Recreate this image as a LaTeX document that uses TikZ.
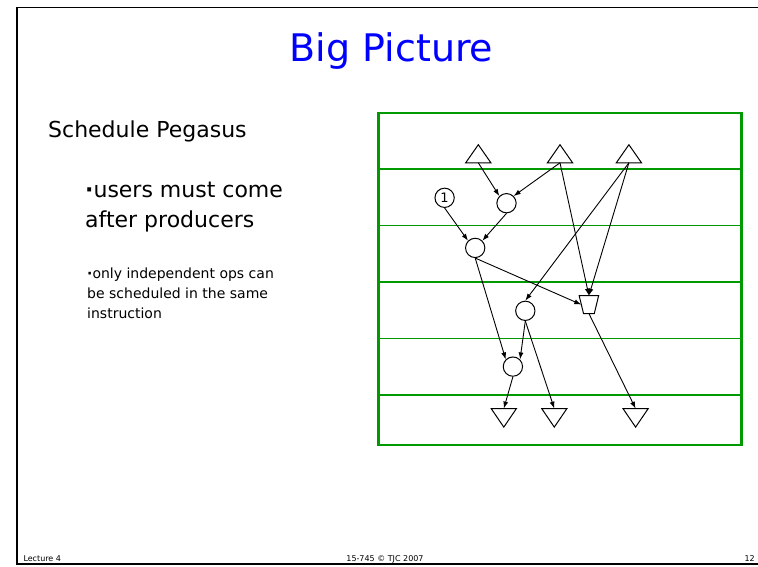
\documentclass[tikz,border=0pt]{standalone}
\usepackage{fontspec}
\setmainfont{DejaVu Sans}
\usetikzlibrary{arrows.meta}
\definecolor{lanegreen}{RGB}{0,153,0}
\definecolor{titleblue}{RGB}{0,0,255}

\begin{document}
\begin{tikzpicture}[
  x=1pt, y=-1pt,
  op/.style={draw, circle, line width=1pt, minimum size=19.3pt, inner sep=0pt, fill=white},
  tri/.style={draw, line width=1pt, fill=white},
  arrow/.style={-{Latex[length=7pt,width=5pt]}, line width=0.9pt},
  lane/.style={draw=lanegreen, line width=1.5pt},
  body/.style={anchor=base west, inner sep=0pt, align=left},
  foot/.style={inner sep=0pt, font=\fontsize{8}{9}\selectfont}
]
\useasboundingbox (0,0) rectangle (758,566);

% slide frame
\draw[line width=1.8pt] (760,7.5) -| (16.7,564) -- (760,564);

\node[anchor=base, inner sep=0pt, text=titleblue, font=\fontsize{38}{44}\selectfont] (title) at (391.5,61.7) {Big Picture};

\node[body, font=\fontsize{22}{30}\selectfont] (sched) at (48,137.5) {Schedule Pegasus};
\node[body, font=\fontsize{22}{30}\selectfont] (rule1) at (85,227) {\textbf{·}users must come\\after producers};
\node[body, font=\fontsize{14}{19.7}\selectfont] (rule2) at (87,318) {\textbf{·}only independent ops can\\be scheduled in the same\\instruction};

% footer
\node[foot, anchor=base west] (lect) at (23.3,561) {Lecture 4};
\node[foot, anchor=base] (course) at (385,561) {15-745 © TJC 2007};
\node[foot, anchor=base east] (page) at (755,561) {12};

% schedule lanes
\draw[draw=lanegreen, line width=2.7pt] (378.8,113) rectangle (741.8,445);
\foreach \y in {168.9,225.4,282.2,338.7,395.2}
  \draw[lane] (378.8,\y) -- (741.8,\y);

% inputs and outputs
\foreach \n/\x in {t1/478.3, t2/560.0, t3/628.9} {
  \coordinate (\n) at (\x,162.8);
  \draw[tri] (\n) ++(-12.6,0) -- ++(25.2,0) -- ++(-12.6,-18.1) -- cycle;
}
\foreach \n/\x in {b1/503.8, b2/554.3, b3/635.6} {
  \coordinate (\n) at (\x,408.6);
  \draw[tri] (\n) ++(-12.6,0) -- ++(25.2,0) -- ++(-12.6,18.5) -- cycle;
}

% operations
\node[op, font=\fontsize{13}{13}\selectfont] (one) at (444.6,197.8) {1};
\node[op] (c1) at (506.5,203.2) {};
\node[op] (c2) at (475.2,247.9) {};
\node[op] (c3) at (525.3,310.8) {};
\node[op] (c4) at (512.9,366.6) {};
% store
\coordinate (st-n) at (588.9,295.6);
\coordinate (st-w) at (581.3,304.6);
\coordinate (st-s) at (588.9,313.5);
\draw[tri] (579.15,295.6) -- (598.65,295.6) -- (594.3,313.5) -- (583.5,313.5) -- cycle;

% dependences
\draw[arrow] (t1) -- (c1.north west);
\draw[arrow] (t2) -- (c1.north east);
\draw[arrow] (t2) -- (st-n);
\draw[arrow] (t3) -- (st-n);
\draw[arrow] (t3) -- (c3.north);
\draw[arrow] (one.south) -- (c2.north west);
\draw[arrow] (c1.south) -- (c2.north east);
\draw[arrow] (c2.south) -- (st-w);
\draw[arrow] (c2.south) -- (c4.north west);
\draw[arrow] (c3.south) -- (c4.north east);
\draw[arrow] (c3.south) -- (b2);
\draw[arrow] (c4.south) -- (b1);
\draw[arrow] (st-s) -- (b3);

\end{tikzpicture}
\end{document}
